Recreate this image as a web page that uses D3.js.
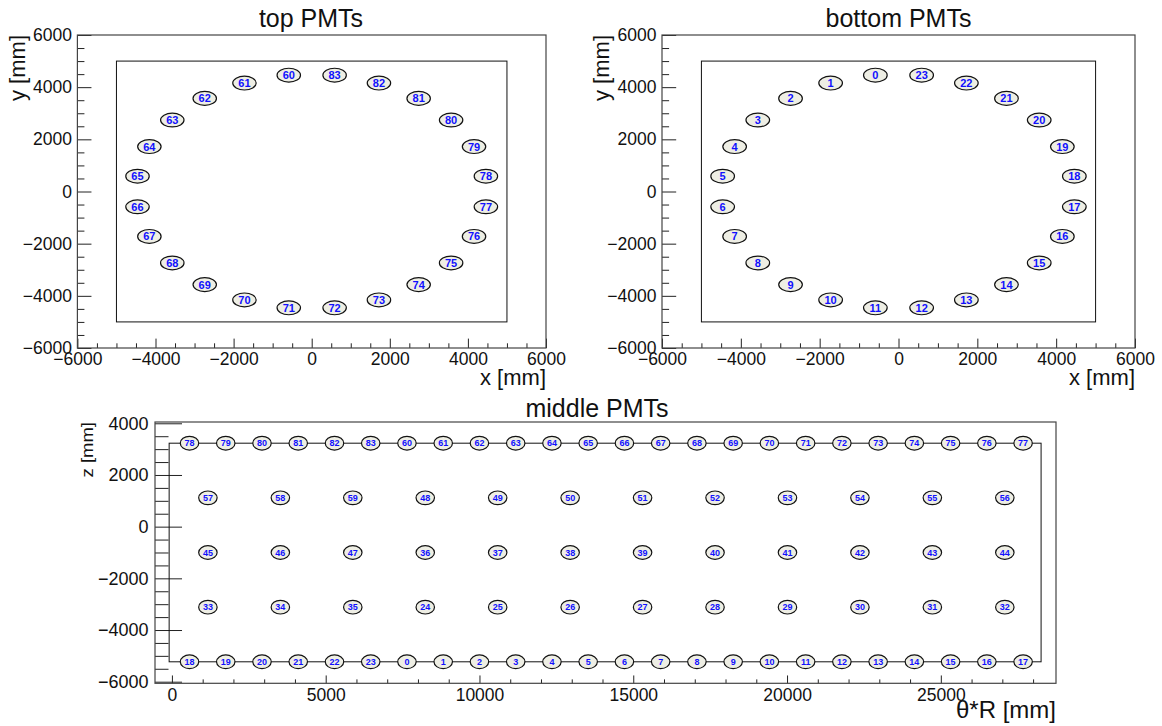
<!DOCTYPE html>
<html>
<head>
<meta charset="utf-8">
<script src="https://cdn.jsdelivr.net/npm/d3@7"></script>
<style>
  body { margin: 0; background: #ffffff; }
  text { font-family: "Liberation Sans", Arial, Helvetica, sans-serif; }
</style>
</head>
<body>
<svg id="chart" width="1162" height="726"></svg>
<script>
// ---- PMT layout (mm) ----
// end caps: 24 PMTs on a ring, listed counter-clockwise starting just left of +y
const capTopIds    = [60,61,62,63,64,65,66,67,68,69,70,71,72,73,74,75,76,77,78,79,80,81,82,83];
const capBottomIds = [0,1,2,3,4,5,6,7,8,9,10,11,12,13,14,15,16,17,18,19,20,21,22,23];
const capX = [-587,-1722,-2739,-3570,-4157,-4461,-4461,-4157,-3570,-2739,-1722,-587,
               587, 1722, 2739, 3570, 4157, 4461, 4461, 4157, 3570, 2739, 1722, 587];
const capY = [4461,4157,3570,2739,1722,587,-587,-1722,-2739,-3570,-4157,-4461,
              -4461,-4157,-3570,-2739,-1722,-587,587,1722,2739,3570,4157,4461];
const capOutline = [-5000, 5000];

// barrel, unrolled: theta*R along x, z along y
const wallTopIds    = [78,79,80,81,82,83,60,61,62,63,64,65,66,67,68,69,70,71,72,73,74,75,76,77];
const wallBottomIds = [18,19,20,21,22,23,0,1,2,3,4,5,6,7,8,9,10,11,12,13,14,15,16,17];
const wallEdgeX = [572,1750,2929,4107,5286,6464,7642,8821,9999,11178,12356,13534,
                   14713,15891,17070,18248,19426,20605,21783,22962,24140,25318,26497,27675];
const wallRow1Ids = [57,58,59,48,49,50,51,52,53,54,55,56];
const wallRow2Ids = [45,46,47,36,37,38,39,40,41,42,43,44];
const wallRow3Ids = [33,34,35,24,25,26,27,28,29,30,31,32];
const wallInnerX = [1170,3526,5881,8237,10592,12948,15303,17659,20014,22370,24725,27081];
const wallRowZ = [3230, 1115, -1000, -3115, -5230];
const wallOutlineX = [-90, 28260];

// axis ranges and ticks
const capRange = [-6000, 6000];
const capMajorTicks = [-6000,-4000,-2000,0,2000,4000,6000];
const wallXRange = [-550, 28745];
const wallZRange = [-6062, 4050];
const wallXMajorTicks = [0,5000,10000,15000,20000,25000];
const wallZMajorTicks = [-6000,-4000,-2000,0,2000,4000];

const pmtRadius = [300, 265]; // ellipse half-axes, mm

const svg = d3.select("#chart");
svg.append("rect").attr("width", 1162).attr("height", 726).attr("fill", "#ffffff");

const fmt = d3.format("d");

function minorTicks(lo, hi, step, majors) {
  const out = [];
  for (let v = lo; v <= hi + 1e-6; v += step) if (!majors.includes(v)) out.push(v);
  return out;
}

function panel(opt) {
  const g = svg.append("g");
  const x = d3.scaleLinear().domain(opt.xDomain).range([opt.x0, opt.x1]);
  const y = d3.scaleLinear().domain(opt.yDomain).range([opt.y1, opt.y0]);
  const w = opt.x1 - opt.x0, h = opt.y1 - opt.y0;
  const xLen = 0.03 * h, yLen = 0.03 * w;

  // x axis: major + minor ticks pointing inward
  const xa = g.append("g").attr("transform", `translate(0,${opt.y1})`)
    .call(d3.axisBottom(x).tickValues(opt.xMajor).tickSize(-xLen).tickPadding(opt.xPad).tickFormat(fmt));
  g.append("g").attr("transform", `translate(0,${opt.y1})`)
    .call(d3.axisBottom(x).tickValues(opt.xMinor).tickSize(-xLen / 2).tickFormat(""));
  const ya = g.append("g").attr("transform", `translate(${opt.x0},0)`)
    .call(d3.axisLeft(y).tickValues(opt.yMajor).tickSize(-yLen).tickPadding(opt.yPad).tickFormat(fmt));
  g.append("g").attr("transform", `translate(${opt.x0},0)`)
    .call(d3.axisLeft(y).tickValues(opt.yMinor).tickSize(-yLen / 2).tickFormat(""));
  g.selectAll(".domain").remove();
  g.selectAll(".tick line").attr("stroke", "#222").attr("stroke-width", 1);
  g.selectAll("g").attr("font-family", null).attr("font-size", null);
  xa.selectAll("text").attr("font-size", opt.xTickFont).attr("fill", "#111");
  ya.selectAll("text").attr("font-size", opt.yTickFont).attr("fill", "#111");

  // frame
  g.append("rect").attr("x", opt.x0).attr("y", opt.y0).attr("width", w).attr("height", h)
    .attr("fill", "none").attr("stroke", "#444").attr("stroke-width", 1.2);

  // title
  g.append("text").attr("x", opt.titleX).attr("y", opt.titleY).attr("text-anchor", "middle")
    .attr("font-size", opt.titleFont).attr("fill", "#111").text(opt.title);
  // axis titles
  g.append("text").attr("x", opt.x1).attr("y", opt.xTitleY).attr("text-anchor", "end")
    .attr("font-size", opt.xTitleFont).attr("fill", "#111").text(opt.xTitle);
  g.append("text").attr("text-anchor", "end")
    .attr("transform", `translate(${opt.yTitleX},${opt.y0}) rotate(-90) scale(1,${opt.yTitleSquash})`)
    .attr("font-size", opt.yTitleFont)
    .attr("fill", "#111").text(opt.yTitle);

  return { g, x, y };
}

function drawPmts(p, xs, ys, ids, fontSize) {
  const rx = Math.abs(p.x(pmtRadius[0]) - p.x(0));
  const ry = Math.abs(p.y(pmtRadius[1]) - p.y(0));
  const m = p.g.append("g").selectAll("g").data(ids.map((id, i) => ({ id, x: xs[i], y: ys[i] })))
    .join("g").attr("transform", d => `translate(${p.x(d.x)},${p.y(d.y)})`);
  m.append("ellipse").attr("rx", rx).attr("ry", ry)
    .attr("fill", "#eeeee4").attr("stroke", "#111").attr("stroke-width", 1.2);
  m.append("text").attr("text-anchor", "middle").attr("dy", "0.36em")
    .attr("font-size", fontSize).attr("font-weight", "bold").attr("fill", "#1010ff")
    .text(d => d.id);
}

// ---- end-cap panels ----
const capMinor = minorTicks(-6000, 6000, 500, capMajorTicks);
function capPanel(title, x0, x1, titleX, yTitleX, ids) {
  const p = panel({
    x0, x1, y0: 35, y1: 348, xDomain: capRange, yDomain: capRange,
    xMajor: capMajorTicks, xMinor: capMinor, yMajor: capMajorTicks, yMinor: capMinor,
    xPad: 4.5, yPad: 5.5, xTickFont: 17.5, yTickFont: 17.5,
    title, titleX, titleY: 27, titleFont: 25,
    xTitle: "x [mm]", xTitleY: 385, xTitleFont: 22,
    yTitle: "y [mm]", yTitleX, yTitleFont: 22, yTitleSquash: 1
  });
  p.g.append("rect")
    .attr("x", p.x(capOutline[0])).attr("y", p.y(capOutline[1]))
    .attr("width", p.x(capOutline[1]) - p.x(capOutline[0]))
    .attr("height", p.y(capOutline[0]) - p.y(capOutline[1]))
    .attr("fill", "none").attr("stroke", "#111").attr("stroke-width", 1);
  drawPmts(p, capX, capY, ids, 11);
}
capPanel("top PMTs", 77.4, 546, 311, 24.5, capTopIds);
capPanel("bottom PMTs", 662, 1135, 898.5, 609, capBottomIds);

// ---- barrel panel ----
const wp = panel({
  x0: 155, x1: 1056, y0: 422, y1: 683.3, xDomain: wallXRange, yDomain: wallZRange,
  xMajor: wallXMajorTicks, xMinor: minorTicks(0, 28000, 1000, wallXMajorTicks),
  yMajor: wallZMajorTicks, yMinor: minorTicks(-6000, 4000, 500, wallZMajorTicks),
  xPad: 5, yPad: 6.5, xTickFont: 17.5, yTickFont: 18,
  title: "middle PMTs", titleX: 597, titleY: 416.7, titleFont: 25,
  xTitle: "θ*R [mm]", xTitleY: 718, xTitleFont: 24,
  yTitle: "z [mm]", yTitleX: 93, yTitleFont: 18.5, yTitleSquash: 0.85
});
wp.g.append("rect")
  .attr("x", wp.x(wallOutlineX[0])).attr("y", wp.y(wallRowZ[0]))
  .attr("width", wp.x(wallOutlineX[1]) - wp.x(wallOutlineX[0]))
  .attr("height", wp.y(wallRowZ[4]) - wp.y(wallRowZ[0]))
  .attr("fill", "none").attr("stroke", "#111").attr("stroke-width", 1);
drawPmts(wp, wallEdgeX, wallEdgeX.map(() => wallRowZ[0]), wallTopIds, 9);
drawPmts(wp, wallInnerX, wallInnerX.map(() => wallRowZ[1]), wallRow1Ids, 9);
drawPmts(wp, wallInnerX, wallInnerX.map(() => wallRowZ[2]), wallRow2Ids, 9);
drawPmts(wp, wallInnerX, wallInnerX.map(() => wallRowZ[3]), wallRow3Ids, 9);
drawPmts(wp, wallEdgeX, wallEdgeX.map(() => wallRowZ[4]), wallBottomIds, 9);
</script>
</body>
</html>
